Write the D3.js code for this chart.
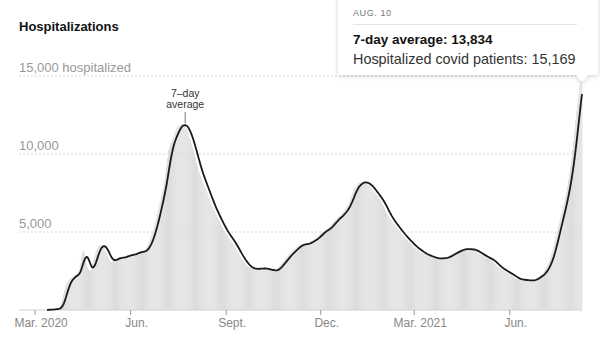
<!DOCTYPE html>
<html>
<head>
<meta charset="utf-8">
<script src="https://cdn.jsdelivr.net/npm/d3@7"></script>
<style>
  html, body { margin: 0; padding: 0; background: #fff; }
  svg { display: block; font-family: "Liberation Sans", Arial, sans-serif; }
</style>
</head>
<body>
<svg id="chart" width="600" height="338"></svg>
<script>
// Hospitalized covid patients per day, starting on firstDay.
const firstDay = "2020-03-13";
const patients = [
  // days 0-9
  10, 15, 20, 25, 30, 40, 50, 60, 70, 80,
  90, 110, 130, 260, 480, 700, 1000, 1300, 1500, 1700,
  1800, 1900, 1980, 2040, 2100, 2150, 2200, 2260, 2310, 2300,
  2400, 2550, 3000, 3400, 3700, 3800, 3650, 3300, 3000, 2750,
  2600, 2530, 2550, 2700, 2950, 3250, 3450, 3700, 3900, 4000,
  4100, 4150, 4150, 4150, 4100, 4000, 3850, 3650, 3500, 3350,
  3200, 3100, 3100, 3150, 3200, 3280, 3330, 3300, 3330, 3350,
  3360, 3370, 3370, 3380, 3380, 3420, 3460, 3500, 3520, 3530,
  3540, 3550, 3560, 3580, 3590, 3620, 3660, 3700, 3740, 3740,
  3740, 3740, 3740, 3740, 3800, 3900, 4020, 4150, 4270, 4450,
  // days 100-109
  4640, 4830, 5020, 5280, 5560, 5840, 6130, 6410, 6700, 7000,
  7300, 7600, 7900, 8330, 8770, 9200, 9730, 10260, 10430, 10600,
  10770, 10940, 11110, 11290, 11470, 11650, 11720, 11790, 11850, 11900,
  11920, 11900, 11830, 11730, 11620, 11540, 11330, 11110, 10900, 10680,
  10470, 10220, 9970, 9720, 9470, 9220, 8970, 8790, 8610, 8430,
  8250, 8070, 7900, 7720, 7550, 7370, 7200, 7020, 6850, 6670,
  6500, 6370, 6230, 6100, 5960, 5830, 5690, 5560, 5420, 5290,
  5150, 5050, 4950, 4860, 4760, 4660, 4570, 4470, 4370, 4270,
  4170, 4060, 3930, 3800, 3680, 3550, 3420, 3330, 3240, 3150,
  3060, 2960, 2870, 2800, 2750, 2710, 2680, 2660, 2640, 2630,
  // days 200-209
  2630, 2640, 2640, 2650, 2650, 2660, 2660, 2670, 2670, 2670,
  2650, 2630, 2610, 2590, 2570, 2560, 2550, 2540, 2530, 2520,
  2520, 2590, 2670, 2750, 2830, 2910, 2990, 3070, 3150, 3230,
  3310, 3390, 3470, 3550, 3630, 3690, 3750, 3810, 3870, 3930,
  3990, 4050, 4110, 4160, 4210, 4210, 4210, 4220, 4220, 4230,
  4230, 4270, 4310, 4360, 4400, 4440, 4480, 4500, 4560, 4610,
  4660, 4730, 4810, 4880, 4950, 5020, 5060, 5090, 5130, 5170,
  5200, 5240, 5320, 5400, 5490, 5570, 5650, 5730, 5800, 5860,
  5920, 5980, 6030, 6090, 6150, 6250, 6340, 6440, 6540, 6630,
  6730, 6920, 7120, 7310, 7500, 7690, 7780, 7860, 7950, 8040,
  // days 300-309
  8120, 8150, 8170, 8190, 8210, 8220, 8180, 8130, 8090, 8050,
  8010, 7920, 7830, 7750, 7660, 7570, 7480, 7390, 7300, 7210,
  7120, 7030, 6940, 6800, 6660, 6530, 6390, 6250, 6120, 5980,
  5890, 5800, 5700, 5610, 5520, 5430, 5330, 5240, 5160, 5080,
  5000, 4920, 4840, 4760, 4680, 4600, 4530, 4460, 4400, 4330,
  4260, 4190, 4130, 4060, 4010, 3960, 3910, 3860, 3810, 3760,
  3710, 3660, 3610, 3590, 3560, 3530, 3500, 3470, 3450, 3420,
  3390, 3370, 3350, 3330, 3310, 3290, 3290, 3300, 3300, 3310,
  3320, 3330, 3340, 3350, 3370, 3380, 3420, 3460, 3510, 3550,
  3590, 3630, 3660, 3700, 3730, 3760, 3790, 3820, 3860, 3890,
  // days 400-409
  3900, 3900, 3910, 3910, 3910, 3900, 3900, 3890, 3880, 3870,
  3860, 3850, 3800, 3760, 3720, 3670, 3630, 3590, 3550, 3510,
  3470, 3430, 3390, 3350, 3320, 3290, 3260, 3230, 3200, 3130,
  3060, 2990, 2920, 2850, 2780, 2740, 2690, 2650, 2600, 2560,
  2510, 2460, 2430, 2390, 2360, 2320, 2290, 2240, 2190, 2140,
  2090, 2040, 1990, 1980, 1970, 1960, 1950, 1940, 1930, 1920,
  1910, 1910, 1900, 1900, 1890, 1890, 1880, 1880, 1920, 1960,
  2000, 2040, 2080, 2100, 2160, 2220, 2280, 2330, 2390, 2510,
  2630, 2750, 2870, 2990, 3200, 3420, 3630, 3850, 4150, 4440,
  4730, 5020, 5290, 5560, 5830, 6100, 6350, 6650, 6950, 7250,
  // days 500-515
  7600, 7950, 8350, 8750, 9200, 9700, 10250, 10850, 11450, 12150,
  12750, 13330, 13900, 14460, 15079, 15169
];

const yTicks = [5000, 10000, 15000];
const yTickLabels = ["5,000", "10,000", "15,000 hospitalized"];
const xTicks = ["2020-03-01", "2020-06-01", "2020-09-01", "2020-12-01", "2021-03-01", "2021-06-01"];
const xTickLabels = ["Mar. 2020", "Jun.", "Sept.", "Dec.", "Mar. 2021", "Jun."];
const xDomain = ["2020-02-15", "2021-08-10"];
const title = "Hospitalizations";
const annotationLines = ["7\u2013day", "average"];

const parse = d3.timeParse("%Y-%m-%d");
const start = parse(firstDay);

// Daily records with a trailing 7-day average.
const rows = patients.map((v, i) => {
  const win = patients.slice(Math.max(0, i - 6), i + 1);
  return { date: d3.timeDay.offset(start, i), value: v, avg: d3.mean(win) };
});

const svg = d3.select("#chart");
const left = 19, right = 582, baseY = 310;

const x = d3.scaleTime().domain(xDomain.map(parse)).range([left, right]);
const y = d3.scaleLinear().domain([0, 15000]).range([baseY, 76]);

// Title
svg.append("text")
  .attr("x", left).attr("y", 31)
  .attr("font-size", 13).attr("font-weight", 700).attr("fill", "#121212")
  .text(title);

// Gridlines and y labels
const grid = svg.append("g");
grid.selectAll("line").data(yTicks).join("line")
  .attr("x1", left).attr("x2", right)
  .attr("y1", d => y(d)).attr("y2", d => y(d))
  .attr("stroke", "#d6d6d6").attr("stroke-dasharray", "2,2");
grid.selectAll("text").data(yTicks).join("text")
  .attr("x", left).attr("y", d => y(d) - 4.5)
  .attr("font-size", 13).attr("fill", "#999")
  .text((d, i) => yTickLabels[i]);

// Daily bars
const step = x(d3.timeDay.offset(start, 1)) - x(start);
const bw = step * 0.84;
svg.append("g").selectAll("rect").data(rows).join("rect")
  .attr("x", d => x(d.date) - step / 2)
  .attr("width", bw)
  .attr("y", d => y(d.value))
  .attr("height", d => baseY - y(d.value))
  .attr("fill", "#d9d9d9");

// Baseline
svg.append("line")
  .attr("x1", left).attr("x2", right)
  .attr("y1", baseY).attr("y2", baseY)
  .attr("stroke", "#d0d0d0");

// X axis
const xAxis = d3.axisBottom(x)
  .tickValues(xTicks.map(parse))
  .tickFormat((d, i) => xTickLabels[i])
  .tickSize(5)
  .tickSizeOuter(0);
const gx = svg.append("g").attr("transform", `translate(0,${baseY})`).call(xAxis);
gx.select(".domain").remove();
gx.selectAll(".tick line").attr("stroke", "#999");
gx.selectAll(".tick text")
  .attr("y", 17).attr("dy", 0).attr("dx", 6)
  .attr("font-family", "Liberation Sans, Arial, sans-serif")
  .attr("font-size", 12).attr("fill", "#888");

// 7-day average line
const line = d3.line().x(d => x(d.date)).y(d => y(d.avg));
svg.append("path").datum(rows)
  .attr("d", line)
  .attr("fill", "none")
  .attr("stroke", "#1a1a1a")
  .attr("stroke-width", 1.8)
  .attr("stroke-linejoin", "round");

// Label at the first wave's peak
const peak = rows.slice(0, 250).reduce((a, b) => (b.avg > a.avg ? b : a));
const px = x(peak.date);
const ann = svg.append("g");
ann.selectAll("text").data(annotationLines).join("text")
  .attr("x", px).attr("y", (d, i) => 97 + i * 11)
  .attr("text-anchor", "middle")
  .attr("font-size", 10.5).attr("fill", "#333")
  .text(d => d);
ann.append("line")
  .attr("x1", px).attr("x2", px)
  .attr("y1", 112).attr("y2", y(peak.avg) - 2)
  .attr("stroke", "#777");

// Tooltip for the latest day
const last = rows[rows.length - 1];
const fmt = d3.format(",");
const defs = svg.append("defs");
const f = defs.append("filter").attr("id", "shadow")
  .attr("x", "-10%").attr("y", "-20%").attr("width", "120%").attr("height", "150%");
f.append("feDropShadow")
  .attr("dx", 0).attr("dy", 1).attr("stdDeviation", 2.5)
  .attr("flood-color", "#000").attr("flood-opacity", 0.18);

const tx = x(last.date);
const tip = svg.append("g");
const boxL = 338, boxR = 598, boxB = 75;
tip.append("path")
  .attr("d", `M${boxL},-10 H${boxR} V${boxB} H${tx + 6} L${tx},${boxB + 7} L${tx - 6},${boxB} H${boxL} Z`)
  .attr("fill", "#fff")
  .attr("filter", "url(#shadow)");
tip.append("text")
  .attr("x", 353).attr("y", 16)
  .attr("font-size", 9).attr("letter-spacing", 0.6).attr("fill", "#777")
  .text(d3.timeFormat("%b. %-d")(last.date).toUpperCase());
tip.append("line")
  .attr("x1", 353).attr("x2", 577).attr("y1", 24.5).attr("y2", 24.5)
  .attr("stroke", "#e2e2e2");
tip.append("text")
  .attr("x", 353).attr("y", 44)
  .attr("font-size", 13.5).attr("font-weight", 700).attr("fill", "#121212")
  .text(`7-day average: ${fmt(Math.round(last.avg))}`);
tip.append("text")
  .attr("x", 353).attr("y", 64)
  .attr("font-size", 14.4).attr("fill", "#333")
  .text(`Hospitalized covid patients: ${fmt(last.value)}`);
</script>
</body>
</html>
